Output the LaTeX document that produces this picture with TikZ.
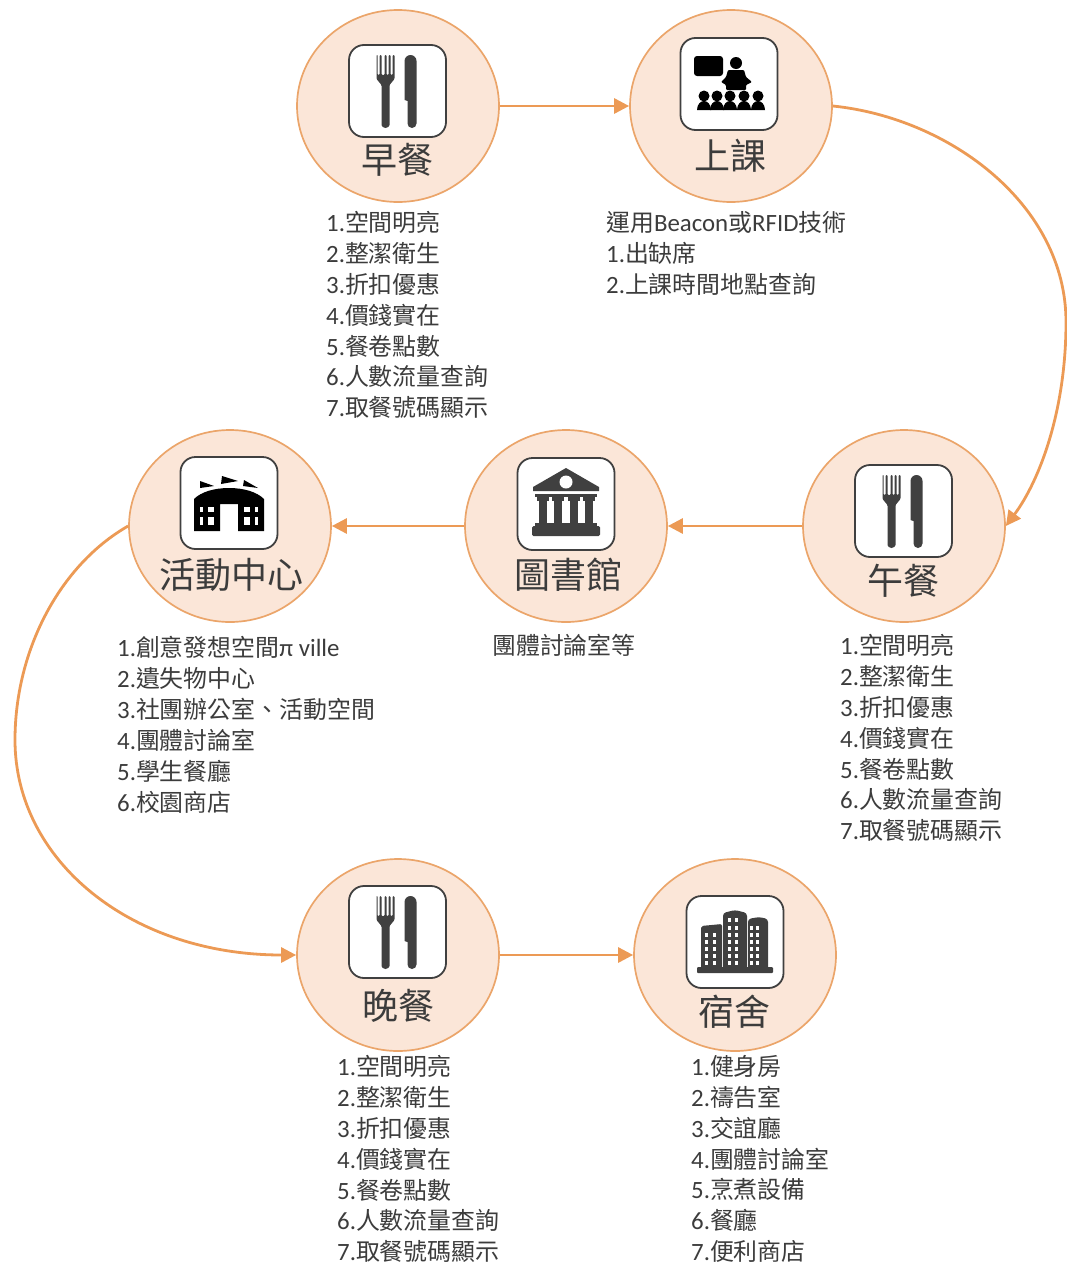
\documentclass[tikz,border=0pt]{standalone}
\usepackage{fontspec}
\usetikzlibrary{shapes.geometric,arrows.meta}
\setmainfont{Noto Sans CJK TC}
\newfontfamily\latf[Scale=1.04]{Carlito}
\newcommand\lnum[1]{{\latf #1}}
\definecolor{ring}{HTML}{EBA56A}
\definecolor{wire}{HTML}{EC9A55}
\definecolor{disc}{HTML}{FBE6D8}
\definecolor{ink}{HTML}{3C3C3C}
\definecolor{glyph}{HTML}{404040}
\tikzset{
 stopdisc/.style={ellipse,draw=ring,fill=disc,line width=1.7pt,minimum width=202pt,minimum height=192pt,inner sep=0pt},
 iconbox/.style={draw=glyph,fill=white,line width=1.8pt,rounded corners=15pt,minimum width=97pt,minimum height=92pt,inner sep=0pt},
 stoptitle/.style={font=\fontsize{36pt}{38pt}\selectfont,text=ink,inner sep=0pt},
 listing/.style={anchor=north west,align=left,inner sep=0pt,text=ink,font=\fontsize{23.9pt}{30.9pt}\selectfont},
 flow/.style={draw=wire,line width=2.8pt,-{Triangle[length=15pt,width=15pt,fill=wire]}},
 forkknife/.pic={
  \fill[glyph,rounded corners=1pt] (-21,-36) -- (-20,-36) -- (-20,-16) -- (-18,-16) -- (-18,-36) -- (-16,-36) -- (-16,-16) -- (-13,-16) -- (-13,-36) -- (-11,-36) -- (-11,-16) -- (-9,-16) -- (-9,-36) -- (-7,-36) -- (-7,-16) -- (-5,-16) -- (-5,-36) -- (-3,-36) -- (-3,-12) -- (-8,-6) -- (-8,33) arc[start angle=0,end angle=180,radius=4] -- (-16,-6) -- (-21,-12) -- cycle;
  \fill[glyph] (7,-30) arc[start angle=-180,end angle=0,radius=6] -- (19,32.5) arc[start angle=0,end angle=180,radius=4.5] -- (10,10) -- (7,9) -- cycle;
 },
 classroom/.pic={
  \fill[black,rounded corners=3pt] (-35,-28) rectangle (-6,-8);
  \fill[black] (7,-21) circle[radius=6];
  \fill[black,rounded corners=1pt] (-1,-14) -- (15,-14) -- (17,-7) -- (23,-2) -- (17,1) -- (17,6) -- (-3,6) -- (-3,1) -- (-8,-2) -- (-3,-7) -- cycle;
  \foreach \q in {-25,-12,1,15,29}{
   \fill[black] (\q,12) circle[radius=5.5];
   \fill[black] (\q-7,26) .. controls (\q-7,20) and (\q-3,17) .. (\q,17) .. controls (\q+3,17) and (\q+7,20) .. (\q+7,26) -- cycle;
  }
 },
 arena/.pic={
  \fill[black] (-35,28) -- (-35,-4) .. controls (-28,-11) and (-15,-15) .. (0,-15) .. controls (15,-15) and (28,-11) .. (35,-4) -- (35,28) -- (9,28) -- (9,1) -- (-9,1) -- (-9,28) -- cycle;
  \fill[black] (-29,-15) -- (-15,-17) -- (-29,-22) -- cycle;
  \fill[black] (-8,-19) -- (9,-22) -- (-7,-27) -- cycle;
  \fill[black] (14,-17) -- (29,-15) -- (15,-23) -- cycle;
  \foreach \wx/\ww in {-29/3,-21/6,15/6,26/3}{\foreach \wy/\wh in {4/5,14/8}{\fill[white] (\wx,\wy) rectangle ++(\ww,\wh);}}
 },
 bank/.pic={
  \fill[glyph] (0,-36) -- (33,-17) -- (33,-13) -- (-33,-13) -- (-33,-17) -- cycle;
  \fill[white] (0,-22) circle[radius=6.5];
  \fill[glyph] (-31,-10) rectangle (31,-7);
  \foreach \q in {-23,-8,8,23}{
   \fill[glyph] (\q-6,-7) rectangle (\q+6,-3);
   \fill[glyph] (\q-4,-3) rectangle (\q+4,19);
  }
  \fill[glyph] (-31,19) rectangle (31,22);
  \fill[glyph,rounded corners=1.5pt] (-34,22) rectangle (34,32);
 },
 towers/.pic={
  \fill[glyph,rounded corners=2pt] (-34,28) -- (-34,-16) -- (-13,-18) -- (-13,28) -- cycle;
  \fill[glyph,rounded corners=3pt] (-12,28) -- (-12,-29) -- (0,-32) -- (12,-29) -- (12,28) -- cycle;
  \fill[glyph,rounded corners=3pt] (13,28) -- (13,-23) -- (24,-25) -- (33,-23) -- (33,28) -- cycle;
  \fill[glyph,rounded corners=1pt] (-38,25) rectangle (38,31);
  \foreach \wx in {-30,-22,-7,0,15,21}{\foreach \wy in {19,12,5,-2,-9}{\fill[white] (\wx,\wy) rectangle ++(3,4);}}
  \foreach \wx in {-7,0,15,21}{\fill[white] (\wx,-16) rectangle ++(3,4);}
  \foreach \wx in {-7,0}{\fill[white] (\wx,-24) rectangle ++(3,4);}
 }
}
\begin{document}
\begin{tikzpicture}[x=1pt,y=-1pt]
\useasboundingbox (0,0) rectangle (1067,1266);
% discs
\node[stopdisc] (breakfast) at (398,106) {};
\node[stopdisc] (classes) at (731,106) {};
\node[stopdisc] (lunch) at (904,526) {};
\node[stopdisc] (library) at (566,526) {};
\node[stopdisc] (center) at (230,526) {};
\node[stopdisc] (dinner) at (398,955) {};
\node[stopdisc] (dorm) at (735,955) {};
% icon boxes
\node[iconbox] (ibreakfast) at (397.5,91) {};
\node[iconbox] (iclasses) at (729,84) {};
\node[iconbox] (ilunch) at (903.5,511) {};
\node[iconbox] (ilibrary) at (566,504) {};
\node[iconbox] (icenter) at (229,503) {};
\node[iconbox] (idinner) at (397.5,932) {};
\node[iconbox] (idorm) at (735,942) {};
\pic at (ibreakfast) {forkknife};
\pic at (iclasses) {classroom};
\pic at (ilunch) {forkknife};
\pic at (ilibrary) {bank};
\pic at (icenter) {arena};
\pic at (idinner) {forkknife};
\pic at (idorm) {towers};
% titles
\node[stoptitle] (tbreakfast) at (397,160) {早餐};
\node[stoptitle] (tclasses) at (730,156) {上課};
\node[stoptitle] (tlunch) at (903,581) {午餐};
\node[stoptitle] (tlibrary) at (568,575) {圖書館};
\node[stoptitle] (tcenter) at (231,575) {活動中心};
\node[stoptitle] (tdinner) at (398,1006) {晚餐};
\node[stoptitle] (tdorm) at (734,1012) {宿舍};
% lists
\node[listing] (lbreakfast) at (326,211) {\lnum{1.}空間明亮\\\lnum{2.}整潔衛生\\\lnum{3.}折扣優惠\\\lnum{4.}價錢實在\\\lnum{5.}餐卷點數\\\lnum{6.}人數流量查詢\\\lnum{7.}取餐號碼顯示};
\node[listing] (lclasses) at (606,211) {運用\lnum{Beacon}或\lnum{RFID}技術\\\lnum{1.}出缺席\\\lnum{2.}上課時間地點查詢};
\node[listing] (llunch) at (840,634) {\lnum{1.}空間明亮\\\lnum{2.}整潔衛生\\\lnum{3.}折扣優惠\\\lnum{4.}價錢實在\\\lnum{5.}餐卷點數\\\lnum{6.}人數流量查詢\\\lnum{7.}取餐號碼顯示};
\node[listing] (llibrary) at (492,634) {團體討論室等};
\node[listing] (lcenter) at (117,636) {\lnum{1.}創意發想空間\lnum{π ville}\\\lnum{2.}遺失物中心\\\lnum{3.}社團辦公室、活動空間\\\lnum{4.}團體討論室\\\lnum{5.}學生餐廳\\\lnum{6.}校園商店};
\node[listing] (ldinner) at (337,1055) {\lnum{1.}空間明亮\\\lnum{2.}整潔衛生\\\lnum{3.}折扣優惠\\\lnum{4.}價錢實在\\\lnum{5.}餐卷點數\\\lnum{6.}人數流量查詢\\\smash{\lnum{7.}取餐號碼顯示}};
\node[listing] (ldorm) at (691,1055) {\lnum{1.}健身房\\\lnum{2.}禱告室\\\lnum{3.}交誼廳\\\lnum{4.}團體討論室\\\lnum{5.}烹煮設備\\\lnum{6.}餐廳\\\smash{\lnum{7.}便利商店}};
% connectors
\coordinate (eastmost) at (1066,322);
\coordinate (westmost) at (15,740);
\draw[flow] (breakfast.east) -- (classes.west);
\draw[flow] (classes.east) .. controls (950,118) and (1066,205) .. (eastmost) .. controls (1066,410) and (1040,480) .. (lunch.east);
\draw[flow] (lunch.west) -- (library.east);
\draw[flow] (library.west) -- (center.east);
\draw[flow] (center.west) .. controls (60,565) and (15,650) .. (westmost) .. controls (15,860) and (130,955) .. (dinner.west);
\draw[flow] (dinner.east) -- (dorm.west);
\end{tikzpicture}
\end{document}
